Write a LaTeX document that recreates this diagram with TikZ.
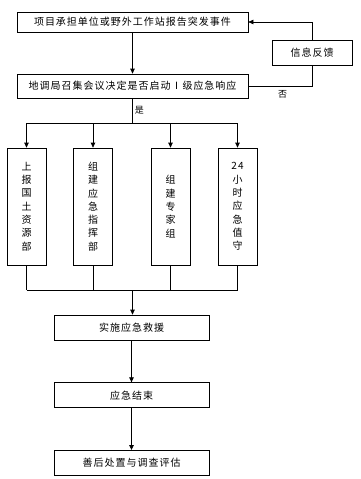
\documentclass[tikz,border=0pt]{standalone}
\usepackage{fontspec}
\setmainfont{Noto Sans CJK SC}[LetterSpace=10]
\usetikzlibrary{arrows.meta,positioning,calc}
\tikzset{
  flowbox/.style={rectangle, draw=black, line width=0.7pt, align=center,
                  inner sep=1pt, font=\fontsize{10}{12}\selectfont},
  widebox/.style={flowbox, minimum width=231pt},
  midbox/.style={flowbox, minimum width=155pt, minimum height=25pt},
  tallbox/.style={flowbox, minimum width=39pt, minimum height=117pt,
                  font=\fontsize{10}{13.3}\selectfont},
  flowarr/.style={-{Triangle[length=5pt,width=4.5pt]}, line width=0.7pt},
  flowline/.style={line width=0.7pt},
  lbl/.style={font=\fontsize{9}{10}\selectfont, inner sep=2pt},
}
\begin{document}
\begin{tikzpicture}[x=1pt,y=-1pt]
    \useasboundingbox (0,0) rectangle (361,479);
    \node[widebox, minimum height=20pt] (a) at (132.5,22) {项目承担单位或野外工作站报告突发事件};
    \node[widebox, minimum height=24pt] (b) at (132.5,86) {地调局召集会议决定是否启动Ⅰ级应急响应};
    \node[flowbox, minimum width=80pt, minimum height=25pt] (fb) at (312,52.5) {信息反馈};
    % four parallel tasks
    \node[tallbox] (c1) at (26.5,206.5) {上\\报\\国\\土\\资\\源\\部};
    \node[tallbox] (c2) at (93,206.5) {组\\建\\应\\急\\指\\挥\\部};
    \node[tallbox] (c3) at (170.5,206.5) {组\\建\\专\\家\\组};
    \node[tallbox] (c4) at (237.5,206.5) {24\\小\\时\\应\\急\\值\\守};
    \node[midbox] (e) at (131.5,327.5) {实施应急救援};
    \node[midbox, below=42pt of e] (f) {应急结束};
    \node[midbox, below=42pt of f] (g) {善后处置与调查评估};
    \coordinate (split) at (132.5,123);
    \coordinate (merge) at (132.5,290);
    \draw[flowarr] (a)--(b);
    \draw[flowline] (b.south) -- node[lbl, right]{是} (split);
    \draw[flowline] (c1.north |- split) -- (c4.north |- split);
    \foreach \n in {c1,c2,c3,c4}
      \draw[flowarr] (\n.north |- split) -- (\n.north);
    \foreach \n in {c1,c2,c3,c4}
      \draw[flowline] (\n.south) -- (\n.south |- merge);
    \draw[flowline] (c1.south |- merge) -- (c4.south |- merge);
    \draw[flowarr] (merge) -- (merge |- e.north);
    \draw[flowarr] (e)--(f);
    \draw[flowarr] (f)--(g);
    % feedback loop
    \draw[flowline] (b.east) -| node[lbl, pos=0.27, below=2pt]{否} (fb.south);
    \draw[flowarr] (fb.north) |- (a.east);
  \end{tikzpicture}
\end{document}
